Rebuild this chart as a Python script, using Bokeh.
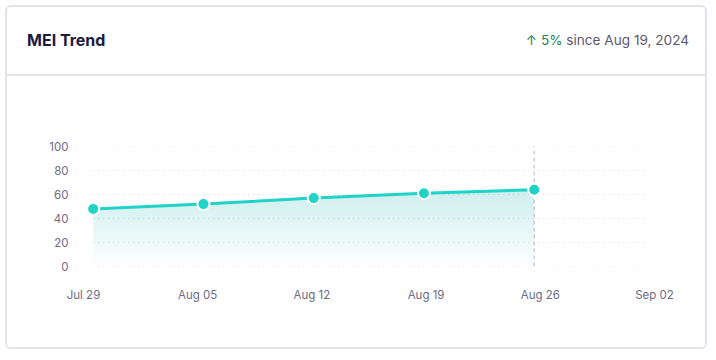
from datetime import date
import numpy as np
from bokeh.plotting import figure
from bokeh.models import Range1d, FixedTicker, ColumnDataSource, Div
from bokeh.layouts import column
from bokeh.embed import file_html
from bokeh.resources import INLINE

# ---------------- data ----------------
title_text = "MEI Trend"
change_text = "↑ 5%"
since_text = "since Aug 19, 2024"

point_dates = ["2024-07-29", "2024-08-05", "2024-08-12", "2024-08-19", "2024-08-26"]
mei_values = [48, 52, 57, 61, 64]

tick_dates = ["2024-07-29", "2024-08-05", "2024-08-12", "2024-08-19", "2024-08-26", "2024-09-02"]
tick_labels = ["Jul 29", "Aug 05", "Aug 12", "Aug 19", "Aug 26", "Sep 02"]
y_ticks = [0, 20, 40, 60, 80, 100]
marker_date = "2024-08-26"

# ---------------- helpers ----------------
origin = date.fromisoformat(tick_dates[0])
def day(s):
    return (date.fromisoformat(s) - origin).days

px = [day(d) for d in point_dates]
tx = [day(d) for d in tick_dates]
vals = np.array(mei_values, dtype=float)

LABEL_COLOR = "#6e6b86"
TEAL = "#1fd3c6"
BORDER = "#e4e3eb"

W = 698          # inner card width
HEAD_H = 69
CHART_H = 271

# ---------------- header ----------------
header_html = (
    f'<div style="position:relative;width:{W}px;height:{HEAD_H}px;font-family:Inter,sans-serif;">'
    f'<span style="position:absolute;left:20px;top:25px;font-size:16px;line-height:16px;'
    f'font-weight:700;color:#1d1a3f;white-space:nowrap;">{title_text}</span>'
    f'<span style="position:absolute;right:16px;top:26px;font-size:13.6px;line-height:14px;'
    f'white-space:nowrap;color:#5b5970;">'
    f'<span style="color:#23875b;">{change_text}</span> {since_text}</span>'
    f'</div>'
)
head = Div(text=header_html, width=W, height=HEAD_H)
head.styles = {"border-bottom": f"2px solid {BORDER}", "margin": "0", "padding": "0"}

# ---------------- chart ----------------
p = figure(width=W, height=CHART_H, x_range=Range1d(tx[0], tx[-1]), y_range=Range1d(0, 100),
           min_border_left=76, min_border_right=51, min_border_top=70, min_border_bottom=81,
           toolbar_location=None, output_backend="svg")
p.extra_x_ranges = {"pts": Range1d(-0.616, 35.637)}
p.outline_line_color = None
p.grid.visible = False

for ax in (p.xaxis, p.yaxis):
    ax.axis_line_color = None
    ax.major_tick_line_color = None
    ax.minor_tick_line_color = None
    ax.major_tick_out = 0
    ax.major_tick_in = 0
    ax.major_label_text_font = "Inter"
    ax.major_label_text_font_size = "11.5px"
    ax.major_label_text_color = LABEL_COLOR

p.xaxis.ticker = FixedTicker(ticks=tx)
p.xaxis.major_label_overrides = {t: lab for t, lab in zip(tx, tick_labels)}
p.xaxis.major_label_standoff = 21
p.yaxis.ticker = FixedTicker(ticks=y_ticks)
p.yaxis.major_label_standoff = 15

# dotted horizontal grid
p.segment(x0=[tx[0]] * len(y_ticks), x1=[tx[-1]] * len(y_ticks), y0=y_ticks, y1=y_ticks,
          x_range_name="pts", line_color="#d9d8e2", line_width=1, line_dash="1 4")

# gradient fill under the line (stacked translucent layers)
n_layers = 25
alpha = 0.013
for k in range(n_layers):
    lo = 100.0 * k / n_layers
    if lo >= vals.max():
        break
    p.varea(x=px, y1=np.minimum(vals, lo), y2=vals, x_range_name="pts",
            fill_color=TEAL, fill_alpha=alpha)

# vertical dashed marker
p.segment(x0=[day(marker_date)], x1=[day(marker_date)], y0=[y_ticks[0]], y1=[y_ticks[-1]],
          x_range_name="pts", line_color="#b8b7c2", line_width=1, line_dash="4 3")

src = ColumnDataSource(dict(x=px, y=mei_values))
p.line("x", "y", source=src, x_range_name="pts", line_color=TEAL, line_width=3)
p.scatter("x", "y", source=src, x_range_name="pts", size=12, fill_color=TEAL,
          line_color="white", line_width=2)

card = column(head, p)
card.styles = {"border": f"2px solid {BORDER}", "border-radius": "6px", "overflow": "hidden"}

page = column(card)
page.styles = {"padding": "5px 0 0 5px", "margin-bottom": "-10px"}

open("out.html", "w").write(file_html(page, INLINE))
